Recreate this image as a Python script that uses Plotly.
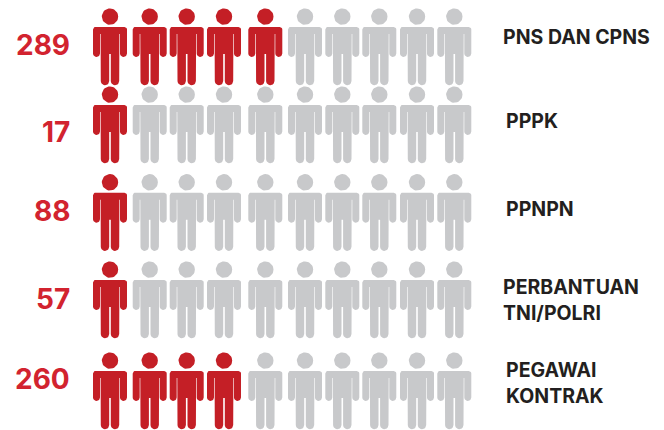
import math
import plotly.graph_objects as go

# ---- data ----
categories = ["PNS DAN CPNS", "PPPK", "PPNPN", "PERBANTUAN\nTNI/POLRI", "PEGAWAI\nKONTRAK"]
values = ["289", "17", "88", "57", "260"]
filled_icons = [5, 1, 1, 1, 4]
icons_per_row = 10

# ---- layout of the pictogram (axes run in page pixels) ----
W, H = 664, 430
COLUMN_X = [110, 149.7, 186.7, 224, 265.3, 305, 342.3, 379.3, 417, 454.3]
ROW_TOP = [27, 105, 192.7, 280, 371]
LABEL_X = [501, 504, 504, 501, 504]
LABEL_Y = [[37], [121], [209], [287, 313], [370, 396]]
VALUE_Y = [44.5, 131, 210, 298, 378.5]
RED, GREY = "#c41f26", "#c8c9cb"
TEXT_RED, TEXT_DARK = "#d2232f", "#231f20"


def arc(cx, cy, r, a0, a1, n=10):
    return [(cx + r * math.cos(math.radians(a0 + (a1 - a0) * i / n)),
             cy + r * math.sin(math.radians(a0 + (a1 - a0) * i / n))) for i in range(n + 1)]


def person_body():
    """Outline in pixel offsets from (column centre, top of shoulders); y grows downwards."""
    p = []
    p += arc(14.5, 2.5, 2.5, -90, 0, 5)          # right shoulder
    p += arc(13.5, 26.5, 3.5, 0, 180)            # right arm end
    p += [(10, 7), (9.4, 7)]                     # slit arm / torso
    p += arc(5, 54, 4.2, 0, 180)                 # right leg end
    p += [(0.8, 27), (-0.8, 27)]                 # crotch
    p += arc(-5, 54, 4.2, 0, 180)                # left leg end
    p += [(-9.4, 7), (-10, 7)]                   # slit
    p += arc(-13.5, 26.5, 3.5, 0, 180)           # left arm end
    p += arc(-14.5, 2.5, 2.5, 180, 270, 5)       # left shoulder
    p.append(p[0])
    return p


def person_head():
    return arc(0, -10.4, 8.2, 0, 360, 36)


def glyph_xy(x0, y0):
    xs, ys = [], []
    for part in (person_body(), person_head()):
        xs += [x0 + dx for dx, _ in part] + [None]
        ys += [y0 + dy for _, dy in part] + [None]
    return xs, ys


grey_x, grey_y, red_x, red_y = [], [], [], []
for row, n_filled in enumerate(filled_icons):
    for col in range(icons_per_row):
        xs, ys = glyph_xy(COLUMN_X[col], ROW_TOP[row])
        if col < n_filled:
            red_x += xs
            red_y += ys
        else:
            grey_x += xs
            grey_y += ys

fig = go.Figure()
for xs, ys, color in ((grey_x, grey_y, GREY), (red_x, red_y, RED)):
    fig.add_trace(go.Scatter(x=xs, y=ys, mode="lines", fill="toself", fillcolor=color,
                             line=dict(width=0, color=color), hoverinfo="skip", showlegend=False))

annotations = []
for i, (cat, val) in enumerate(zip(categories, values)):
    annotations.append(dict(x=72, y=VALUE_Y[i] + 0.5, text=val, xanchor="right", yanchor="middle",
                            showarrow=False,
                            font=dict(family="Inter", size=28, color=TEXT_RED, weight=700)))
    for line, y in zip(cat.split("\n"), LABEL_Y[i]):
        annotations.append(dict(x=LABEL_X[i], y=y, text=line, xanchor="left", yanchor="middle",
                                showarrow=False,
                                font=dict(family="Inter", size=19.5, color=TEXT_DARK, weight=700)))

fig.update_layout(
    width=W, height=H, margin=dict(l=0, r=0, t=0, b=0),
    paper_bgcolor="white", plot_bgcolor="white", showlegend=False,
    xaxis=dict(range=[0, W], visible=False, fixedrange=True),
    yaxis=dict(range=[H, 0], visible=False, fixedrange=True),
    annotations=annotations,
)
fig.write_html("out.html", config={"displayModeBar": False},
               post_script="document.body.style.margin='0';document.documentElement.style.overflow='hidden';")
